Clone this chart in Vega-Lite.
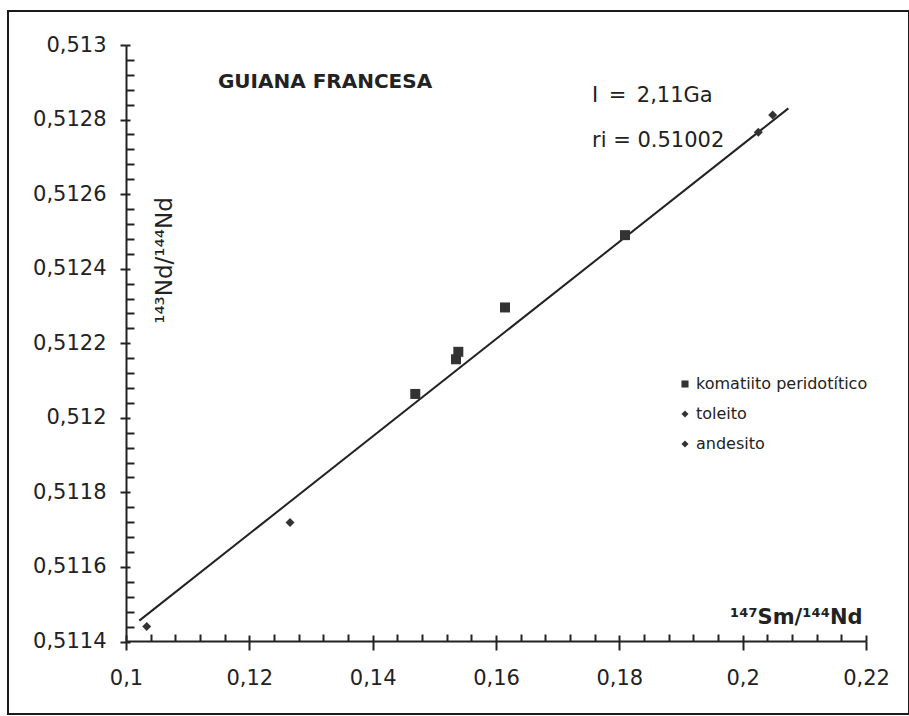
{
  "$schema": "https://vega.github.io/schema/vega-lite/v6.json",
  "width": 901,
  "height": 703,
  "autosize": {"type": "none"},
  "padding": {"left": 8, "top": 11, "right": 0, "bottom": 2},
  "background": "white",
  "config": {
    "view": {"stroke": "#1a1a1a", "strokeWidth": 2},
    "axis": {"grid": false, "labelFont": "DejaVu Sans", "titleFont": "DejaVu Sans", "domainColor": "#222", "tickColor": "#222", "labelColor": "#222", "titleColor": "#222", "labelFlush": false, "labelOverlap": false},
    "axisLeft": {"offset": -118},
    "axisBottom": {"offset": -73},
    "text": {"font": "DejaVu Sans", "color": "#222"}
  },
  "datasets": {
    "samples": [
      {"type": "komatiito peridotítico", "sm_nd": 0.14691, "nd_nd": 0.512064},
      {"type": "komatiito peridotítico", "sm_nd": 0.15351, "nd_nd": 0.512157},
      {"type": "komatiito peridotítico", "sm_nd": 0.15389, "nd_nd": 0.512177},
      {"type": "komatiito peridotítico", "sm_nd": 0.16146, "nd_nd": 0.512296},
      {"type": "komatiito peridotítico", "sm_nd": 0.18092, "nd_nd": 0.51249},
      {"type": "andesito", "sm_nd": 0.10336, "nd_nd": 0.51144},
      {"type": "andesito", "sm_nd": 0.1266, "nd_nd": 0.511719},
      {"type": "toleito", "sm_nd": 0.20254, "nd_nd": 0.512766},
      {"type": "toleito", "sm_nd": 0.20487, "nd_nd": 0.512812}
    ],
    "isochron": [
      {"sm_nd": 0.10216, "nd_nd": 0.511456},
      {"sm_nd": 0.20741, "nd_nd": 0.51283}
    ],
    "heading": [
      {"label": "GUIANA FRANCESA", "sm_nd": 0.1149, "nd_nd": 0.512886}
    ],
    "notes": [
      {"label": "I\u2002=\u20022,11Ga", "sm_nd": 0.17557, "nd_nd": 0.512847},
      {"label": "ri = 0.51002", "sm_nd": 0.17557, "nd_nd": 0.512726}
    ]
  },
  "layer": [
    {
      "data": {"name": "isochron"},
      "mark": {"type": "line", "color": "#222", "strokeWidth": 2},
      "encoding": {
        "x": {
          "field": "sm_nd", "type": "quantitative",
          "scale": {"domain": [0.1, 0.22], "range": [118, 858], "nice": false, "zero": false},
          "axis": {
            "orient": "bottom",
            "values": [0.1, 0.12, 0.14, 0.16, 0.18, 0.2, 0.22],
            "labelExpr": "replace(format(datum.value, '~g'), '.', ',')",
            "labelFontSize": 21, "labelPadding": 17,
            "tickSize": 9, "tickWidth": 2, "domainWidth": 2,
            "title": "¹⁴⁷Sm/¹⁴⁴Nd", "titleFontSize": 21, "titleFontWeight": "bold",
            "titleX": 854, "titleY": -18, "titleAlign": "right", "titleBaseline": "alphabetic"
          }
        },
        "y": {
          "field": "nd_nd", "type": "quantitative",
          "scale": {"domain": [0.5114, 0.513], "range": [630.5, 34], "nice": false, "zero": false},
          "axis": {
            "orient": "left",
            "values": [0.5114, 0.5116, 0.5118, 0.512, 0.5122, 0.5124, 0.5126, 0.5128, 0.513],
            "labelExpr": "replace(format(datum.value, '~g'), '.', ',')",
            "labelFontSize": 21, "labelPadding": 14,
            "tickSize": 6, "tickWidth": 2, "domainWidth": 2,
            "title": "¹⁴³Nd/¹⁴⁴Nd", "titleFontSize": 23, "titleFontWeight": "normal",
            "titleAngle": -90, "titleX": 38, "titleY": 249, "titleAlign": "center", "titleBaseline": "middle"
          }
        }
      }
    },
    {
      "data": {"name": "samples"},
      "transform": [{"filter": "datum.type === 'komatiito peridotítico'"}],
      "mark": {"type": "point", "filled": true, "size": 100, "color": "#333", "opacity": 1},
      "encoding": {
        "x": {
          "field": "sm_nd", "type": "quantitative",
          "scale": {"domain": [0.1, 0.22], "range": [118, 858], "nice": false, "zero": false},
          "axis": {"orient": "bottom", "values": [0.1, 0.12, 0.14, 0.16, 0.18, 0.2, 0.22], "tickSize": -6, "tickWidth": 2, "labels": false, "domain": false, "title": null}
        },
        "y": {
          "field": "nd_nd", "type": "quantitative",
          "scale": {"domain": [0.5114, 0.513], "range": [630.5, 34], "nice": false, "zero": false},
          "axis": {"orient": "left", "values": [0.5114, 0.5116, 0.5118, 0.512, 0.5122, 0.5124, 0.5126, 0.5128, 0.513], "tickSize": -4, "tickWidth": 2, "labels": false, "domain": false, "title": null}
        },
        "shape": {
          "field": "type", "type": "nominal",
          "scale": {"domain": ["komatiito peridotítico", "toleito", "andesito"], "range": ["square", "diamond", "diamond"]},
          "legend": {
            "orient": "none", "legendX": 669, "legendY": 365, "title": null, "padding": 0,
            "labelFont": "DejaVu Sans", "labelFontSize": 16, "labelColor": "#222", "labelLimit": 400,
            "symbolSize": 50, "symbolFillColor": "#333", "symbolStrokeWidth": 0,
            "rowPadding": 14, "labelOffset": 3
          }
        }
      }
    },
    {
      "data": {"name": "samples"},
      "transform": [{"filter": "datum.type !== 'komatiito peridotítico'"}],
      "mark": {"type": "point", "filled": true, "size": 80, "color": "#333", "opacity": 1},
      "encoding": {
        "x": {
          "field": "sm_nd", "type": "quantitative",
          "scale": {"domain": [0.1, 0.22], "range": [118, 858], "nice": false, "zero": false},
          "axis": {"orient": "bottom", "values": [0.104, 0.108, 0.112, 0.116, 0.124, 0.128, 0.132, 0.136, 0.144, 0.148, 0.152, 0.156, 0.164, 0.168, 0.172, 0.176, 0.184, 0.188, 0.192, 0.196, 0.204, 0.208, 0.212, 0.216], "tickSize": -7, "tickWidth": 2, "labels": false, "domain": false, "title": null}
        },
        "y": {
          "field": "nd_nd", "type": "quantitative",
          "scale": {"domain": [0.5114, 0.513], "range": [630.5, 34], "nice": false, "zero": false},
          "axis": {"orient": "left", "values": [0.51144, 0.51148, 0.51152, 0.51156, 0.51164, 0.51168, 0.51172, 0.51176, 0.51184, 0.51188, 0.51192, 0.51196, 0.51204, 0.51208, 0.51212, 0.51216, 0.51224, 0.51228, 0.51232, 0.51236, 0.51244, 0.51248, 0.51252, 0.51256, 0.51264, 0.51268, 0.51272, 0.51276, 0.51284, 0.51288, 0.51292, 0.51296], "tickSize": -8, "tickWidth": 2, "labels": false, "domain": false, "title": null}
        },
        "shape": {
          "field": "type", "type": "nominal",
          "scale": {"domain": ["komatiito peridotítico", "toleito", "andesito"], "range": ["square", "diamond", "diamond"]}
        }
      }
    },
    {
      "data": {"name": "heading"},
      "mark": {"type": "text", "fontSize": 20, "fontWeight": "bold", "align": "left", "baseline": "alphabetic"},
      "encoding": {
        "x": {"field": "sm_nd", "type": "quantitative", "axis": null},
        "y": {"field": "nd_nd", "type": "quantitative", "axis": null},
        "text": {"field": "label", "type": "nominal"}
      }
    },
    {
      "data": {"name": "notes"},
      "mark": {"type": "text", "fontSize": 21, "align": "left", "baseline": "alphabetic"},
      "encoding": {
        "x": {"field": "sm_nd", "type": "quantitative", "axis": null},
        "y": {"field": "nd_nd", "type": "quantitative", "axis": null},
        "text": {"field": "label", "type": "nominal"}
      }
    }
  ],
  "resolve": {"axis": {"x": "independent", "y": "independent"}}
}
